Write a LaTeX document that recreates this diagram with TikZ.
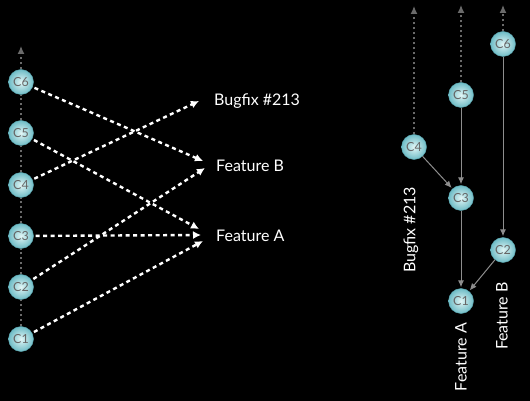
\documentclass[tikz,border=0pt]{standalone}
\usepackage{fontspec}
\setmainfont{Lato}
\usetikzlibrary{arrows.meta}
\definecolor{ballin}{HTML}{E2F6F6}
\definecolor{ballout}{HTML}{6FBCC6}
\definecolor{balledge}{HTML}{5AA6B0}
\definecolor{histgray}{HTML}{6A6A6A}
\definecolor{linegray}{HTML}{8E8E8E}
\tikzset{
  commit/.style={circle, minimum size=25pt, inner sep=0pt, inner color=ballin, outer color=ballout, draw=balledge, line width=0.4pt, text=black!60, font=\fontsize{12.5}{12.5}\selectfont},
  lbl/.style={text=white, font=\fontsize{16}{16}\selectfont, inner sep=0pt},
  merge/.style={draw=white, line width=2.4pt, dash pattern=on 4pt off 3.5pt, -{Latex[length=8pt,width=8pt]}, shorten <=2pt},
  history/.style={draw=histgray, line width=1.3pt, dash pattern=on 2.5pt off 2.5pt},
  histhead/.style={history, -{Latex[length=8pt,width=7pt]}},
  link/.style={draw=linegray, line width=1pt, -{Latex[length=7pt,width=6pt]}, shorten >=1pt},
}
\begin{document}
\begin{tikzpicture}[x=1pt,y=-1pt]
\fill[black] (0,0) rectangle (530,401);
\useasboundingbox (0,0) rectangle (530,401);
% left column
\coordinate (ltop) at (21,46);
\node[commit] (l6) at (21,82) {C6};
\node[commit] (l5) at (21,133) {C5};
\node[commit] (l4) at (21,185) {C4};
\node[commit] (l3) at (21,236) {C3};
\node[commit] (l2) at (21,287) {C2};
\node[commit] (l1) at (21,339) {C1};
\draw[history] (l1) -- (l2);
\draw[history] (l2) -- (l3);
\draw[history] (l3) -- (l4);
\draw[history] (l4) -- (l5);
\draw[history] (l5) -- (l6);
\draw[histhead] (l6) -- (ltop);
% labels
\node[lbl, anchor=west] (bug) at (214,101) {Bugfix \#213};
\node[lbl, anchor=west] (fb) at (216,166) {Feature B};
\node[lbl, anchor=west] (fa) at (216,236) {Feature A};
\coordinate (bugin) at (199,101);
\coordinate (fbin1) at (203,161);
\coordinate (fbin2) at (205,168);
\coordinate (fain1) at (199,229);
\coordinate (fain2) at (201,235);
\coordinate (fain3) at (203,241);
\draw[merge] (l6) -- (fbin1);
\draw[merge] (l5) -- (fain1);
\draw[merge] (l4) -- (bugin);
\draw[merge] (l3) -- (fain2);
\draw[merge] (l2) -- (fbin2);
\draw[merge] (l1) -- (fain3);
% right side
\coordinate (rtop4) at (414,6);
\coordinate (rtop5) at (461,5);
\coordinate (rtop6) at (503,5);
\node[commit] (r6) at (503,44) {C6};
\node[commit] (r5) at (461,95) {C5};
\node[commit] (r4) at (414,147) {C4};
\node[commit] (r3) at (461,198) {C3};
\node[commit] (r2) at (503,250) {C2};
\node[commit] (r1) at (461,301) {C1};
\draw[histhead] (r4) -- (rtop4);
\draw[histhead] (r5) -- (rtop5);
\draw[histhead] (r6) -- (rtop6);
\draw[link] (r5) -- (r3);
\draw[link] (r4) -- (r3);
\draw[link] (r3) -- (r1);
\draw[link] (r6) -- (r2);
\draw[link] (r2) -- (r1);
\node[lbl, rotate=90] (rbug) at (411,230) {Bugfix \#213};
\node[lbl, rotate=90] (rfa) at (461,357) {Feature A};
\node[lbl, rotate=90] (rfb) at (502,316) {Feature B};
\end{tikzpicture}
\end{document}
